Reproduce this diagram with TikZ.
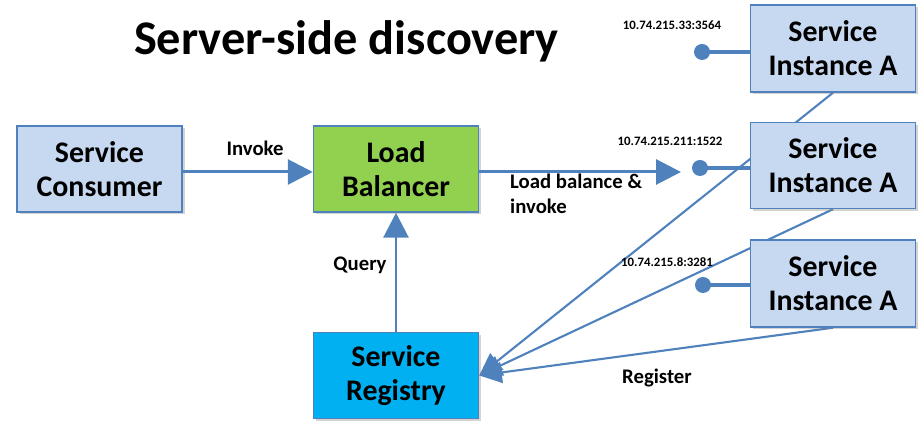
\documentclass[tikz,border=0pt]{standalone}
\usepackage{fontspec}
\setmainfont{Carlito}
\usetikzlibrary{arrows.meta,shadows,backgrounds}

\begin{document}
\begin{tikzpicture}[
  box/.style={draw=edge,line width=0.85pt,minimum width=3.3cm,minimum height=1.72cm,
    align=center,font=\fontsize{17}{19.3}\selectfont\bfseries,
    drop shadow={opacity=0.35,shadow xshift=0.05cm,shadow yshift=-0.05cm}},
  flow/.style={draw=edge,line width=1.7pt,-{Triangle[length=0.5cm,width=0.5cm]}},
  reg/.style={draw=edge,line width=1.2pt,-{Triangle[length=0.45cm,width=0.42cm]}},
  port/.style={draw=edge,line width=2.8pt},
  lbl/.style={font=\fontsize{11.8}{14.5}\selectfont\bfseries},
  ip/.style={font=\fontsize{7.3}{8}\selectfont\bfseries}]
% Define box colours
\definecolor{edge}{RGB}{79,129,189}
\definecolor{pale}{RGB}{198,217,241}
\definecolor{lime}{RGB}{146,208,80}
\definecolor{cyan}{RGB}{0,176,240}

\useasboundingbox (0,0) rectangle (18.36,8.5);

% Title
\node[font=\fontsize{27.5}{32}\selectfont\bfseries] (title) at (6.93,7.68) {Server-side discovery};

% Draw the main boxes
\node[box,fill=pale] (consumer) at (1.99,5.12) {Service\\Consumer};
\node[box,fill=lime] (lb) at (7.92,5.12) {Load\\Balancer};
\node[box,fill=cyan] (registry) at (7.92,0.99) {Service\\Registry};

% Draw the service instances
\node[box,fill=pale,minimum height=1.74cm] (inst1) at (16.66,7.53) {Service\\Instance A};
\node[box,fill=pale] (inst2) at (16.66,5.19) {Service\\Instance A};
\node[box,fill=pale,minimum height=1.74cm] (inst3) at (16.66,2.83) {Service\\Instance A};

% Add end points
\coordinate (ep1) at (14.04,7.46);
\coordinate (ep2) at (14.0,5.14);
\coordinate (ep3) at (14.06,2.8);
\coordinate (target) at (13.62,5.06);
\draw[port] (ep1) -- (ep1 -| inst1.west);
\draw[port] (ep2) -- (ep2 -| inst2.west);
\draw[port] (ep3) -- (ep3 -| inst3.west);
\fill[edge] (ep1) circle (0.16) (ep2) circle (0.16) (ep3) circle (0.16);
\node[ip] (ip1) at (13.44,8.0) {10.74.215.33:3564};
\node[ip] (ip2) at (13.4,5.68) {10.74.215.211:1522};
\node[ip] (ip3) at (13.34,3.26) {10.74.215.8:3281};

% Add the calls
\draw[flow] (consumer.east |- 0,5.06) -- (lb.west |- 0,5.06);
\draw[flow] (lb.east |- target) -- (target);
\draw[flow] (registry.north) -- (lb.south);
\node[lbl] (invoke) at (5.1,5.54) {Invoke};
\node[lbl,anchor=west,align=left] (balance) at (10.08,4.62) {Load balance \&\\invoke};
\node[lbl] (query) at (7.2,3.2) {Query};

% Add registration
\begin{scope}[on background layer]
\draw[reg] (inst1.south) -- (registry.east);
\draw[reg] (inst2.south) -- (registry.east);
\draw[reg] (inst3.south) -- (registry.east);
\end{scope}
\node[lbl] (register) at (13.14,0.94) {Register};
\end{tikzpicture}
\end{document}
